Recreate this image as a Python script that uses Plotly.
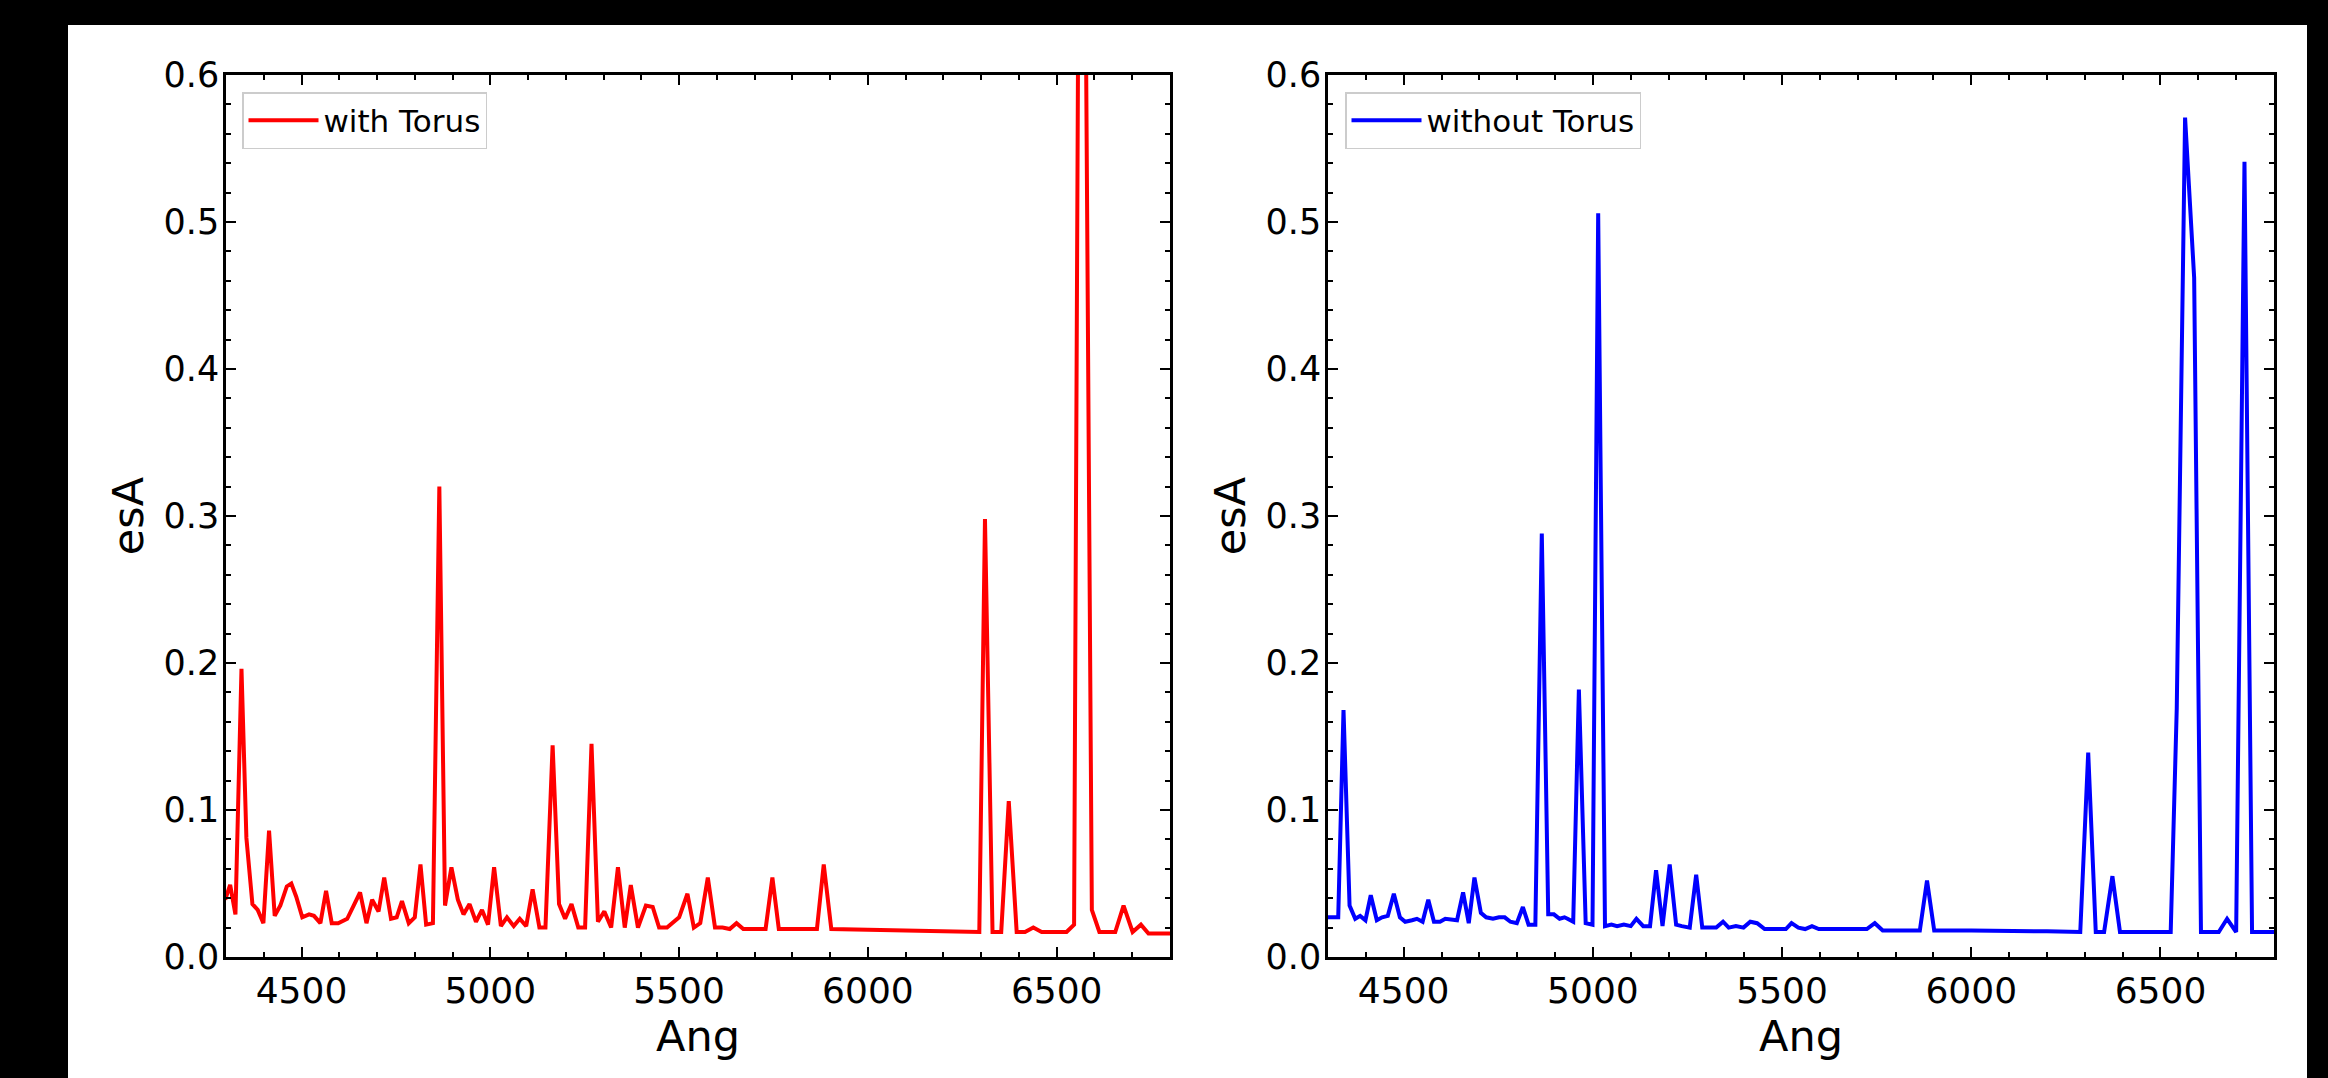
import plotly.graph_objects as go

# ---- data ----
red_x = [4298, 4311, 4325, 4341, 4354, 4370, 4384, 4399, 4414, 4429, 4444, 4461, 4473, 4486,
         4502, 4520, 4533, 4550, 4565, 4580, 4597, 4621, 4640, 4655, 4672, 4687, 4704, 4719,
         4737, 4752, 4766, 4784, 4800, 4815, 4830, 4848, 4865, 4880, 4897, 4914, 4929, 4945,
         4962, 4978, 4994, 5010, 5028, 5044, 5062, 5078, 5095, 5112, 5130, 5146, 5165, 5182,
         5198, 5215, 5233, 5251, 5268, 5285, 5302, 5320, 5338, 5356, 5372, 5391, 5412, 5430,
         5447, 5468, 5500, 5522, 5539, 5556, 5576, 5595, 5615, 5634, 5652, 5670, 5729, 5747,
         5764, 5865, 5883, 5903, 6000, 6100, 6200, 6295, 6310, 6330, 6353, 6373, 6394, 6416,
         6438, 6460, 6526, 6546, 6565, 6593, 6613, 6655, 6677, 6701, 6723, 6743, 6802]
red_y = [0.039, 0.049, 0.029, 0.196, 0.081, 0.036, 0.032, 0.023, 0.086, 0.028, 0.035, 0.048,
         0.050, 0.041, 0.027, 0.029, 0.028, 0.023, 0.045, 0.023, 0.023, 0.026, 0.036, 0.044,
         0.023, 0.039, 0.031, 0.054, 0.026, 0.027, 0.038, 0.023, 0.027, 0.063, 0.022, 0.023,
         0.320, 0.035, 0.061, 0.039, 0.029, 0.036, 0.024, 0.032, 0.022, 0.061, 0.021, 0.027,
         0.021, 0.026, 0.021, 0.046, 0.020, 0.020, 0.144, 0.036, 0.026, 0.036, 0.020, 0.020,
         0.145, 0.024, 0.031, 0.020, 0.061, 0.020, 0.049, 0.020, 0.035, 0.034, 0.020, 0.020,
         0.027, 0.043, 0.020, 0.023, 0.054, 0.020, 0.020, 0.019, 0.023, 0.019, 0.019, 0.054,
         0.019, 0.019, 0.063, 0.019, 0.0185, 0.018, 0.018, 0.017, 0.298, 0.017, 0.017, 0.106,
         0.017, 0.017, 0.020, 0.017, 0.017, 0.022, 1.10, 0.032, 0.017, 0.017, 0.035, 0.017,
         0.022, 0.016, 0.016]

blue_x = [4296, 4327, 4341, 4357, 4372, 4385, 4399, 4413, 4429, 4443, 4458, 4474, 4490, 4504,
          4522, 4535, 4550, 4565, 4580, 4596, 4610, 4641, 4657, 4672, 4687, 4704, 4718, 4736,
          4752, 4767, 4782, 4799, 4815, 4830, 4848, 4865, 4882, 4897, 4912, 4925, 4933, 4948,
          4963, 4981, 4999, 5014, 5032, 5049, 5064, 5082, 5100, 5115, 5133, 5151, 5167, 5184,
          5203, 5220, 5235, 5256, 5273, 5289, 5326, 5344, 5359, 5378, 5398, 5416, 5434, 5454,
          5510, 5525, 5543, 5561, 5579, 5597, 5724, 5745, 5766, 5864, 5883, 5902, 6000, 6100,
          6200, 6288, 6309, 6329, 6351, 6373, 6393, 6527, 6543, 6565, 6589, 6607, 6654, 6676,
          6700, 6722, 6742, 6802]
blue_y = [0.027, 0.027, 0.168, 0.035, 0.026, 0.028, 0.025, 0.042, 0.025, 0.027, 0.028, 0.043,
          0.027, 0.024, 0.025, 0.026, 0.024, 0.039, 0.024, 0.024, 0.026, 0.025, 0.044, 0.023,
          0.054, 0.030, 0.027, 0.026, 0.027, 0.027, 0.024, 0.023, 0.034, 0.022, 0.022, 0.288,
          0.029, 0.029, 0.026, 0.027, 0.026, 0.024, 0.182, 0.023, 0.022, 0.506, 0.021, 0.022,
          0.021, 0.022, 0.021, 0.026, 0.021, 0.021, 0.059, 0.021, 0.063, 0.022, 0.021, 0.020,
          0.056, 0.020, 0.020, 0.024, 0.020, 0.021, 0.020, 0.024, 0.023, 0.019, 0.019, 0.023,
          0.020, 0.019, 0.021, 0.019, 0.019, 0.023, 0.018, 0.018, 0.052, 0.018, 0.018, 0.018,
          0.0175, 0.017, 0.139, 0.017, 0.017, 0.055, 0.017, 0.017, 0.169, 0.571, 0.462, 0.017,
          0.017, 0.026, 0.017, 0.541, 0.017, 0.017]

series_names = ["with Torus", "without Torus"]
x_title = "Ang"
y_title = "esA"
x_range = [4300, 6800]
y_range = [0.0, 0.6]

W, H = 2328, 1078
FONT = "DejaVu Sans"


def px_x(p):
    return p / W


def px_y(p):
    return 1 - p / H


fig = go.Figure()
fig.add_trace(go.Scatter(x=red_x, y=red_y, mode="lines", name=series_names[0],
                         line=dict(color="#ff0000", width=4), xaxis="x", yaxis="y",
                         legend="legend"))
fig.add_trace(go.Scatter(x=blue_x, y=blue_y, mode="lines", name=series_names[1],
                         line=dict(color="#0000ff", width=4), xaxis="x2", yaxis="y2",
                         legend="legend2"))

common_x = dict(range=x_range, tick0=0, dtick=500, ticks="inside", ticklen=10, tickwidth=2,
                tickcolor="black", showline=True, linecolor="black", linewidth=2.5,
                mirror="ticks", showgrid=False, zeroline=False,
                minor=dict(ticks="inside", dtick=100, ticklen=5, tickwidth=1.5,
                           tickcolor="black", showgrid=False),
                tickfont=dict(family=FONT, size=36, color="black"),
                title=dict(text=x_title, font=dict(family=FONT, size=43, color="black"),
                           standoff=0),
                ticklabelstandoff=0, automargin=False)
common_y = dict(range=y_range, dtick=0.1, tickformat=".1f", ticks="inside", ticklen=10,
                tickwidth=2, tickcolor="black", showline=True, linecolor="black",
                linewidth=2.5, mirror="ticks", showgrid=False, zeroline=False,
                minor=dict(ticks="inside", dtick=0.02, ticklen=5, tickwidth=1.5,
                           tickcolor="black", showgrid=False),
                tickfont=dict(family=FONT, size=35, color="black"),
                title=dict(text=y_title, font=dict(family=FONT, size=43, color="black"),
                           standoff=7),
                ticklabelstandoff=-3, automargin=False)

ydom = [px_y(957), px_y(75)]
legend_common = dict(xanchor="left", yanchor="top", bgcolor="white", bordercolor="#cccccc",
                     borderwidth=1.5, font=dict(family=FONT, size=31, color="black"),
                     itemwidth=70, entrywidthmode="pixels")
fig.update_layout(
    width=W, height=H,
    margin=dict(l=0, r=0, t=0, b=0, pad=0),
    paper_bgcolor="black",
    plot_bgcolor="white",
    font=dict(family=FONT, color="black"),
    xaxis=dict(domain=[px_x(226), px_x(1170)], anchor="y", **common_x),
    yaxis=dict(domain=ydom, anchor="x", **common_y),
    xaxis2=dict(domain=[px_x(1328), px_x(2274)], anchor="y2", **common_x),
    yaxis2=dict(domain=ydom, anchor="x2", **common_y),
    legend=dict(x=px_x(242), y=px_y(92), entrywidth=185, **legend_common),
    legend2=dict(x=px_x(1345), y=px_y(92), entrywidth=238, **legend_common),
    showlegend=True,
    shapes=[dict(type="rect", xref="paper", yref="paper",
                 x0=px_x(68), x1=px_x(2307), y0=px_y(1078), y1=px_y(25),
                 fillcolor="white", line=dict(width=0), layer="below")],
)

fig.write_html(
    "out.html",
    config={"displayModeBar": False},
    post_script="document.body.style.margin='0';document.body.style.background='black';"
                "document.body.style.overflow='hidden';",
)
